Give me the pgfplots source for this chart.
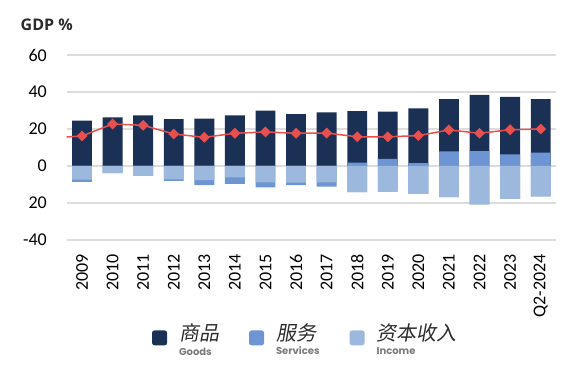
\documentclass[border=0pt]{standalone}
\usepackage{pgfplots}
\usepackage{pgfplotstable}
\pgfplotsset{compat=1.18}
\usepackage{fontspec}
\setmainfont{Carlito}
\newfontfamily\cjk{Noto Sans CJK SC}[FakeSlant=0.18]
\newfontfamily\engfont{Poppins}
\newfontfamily\titlefont{Open Sans}
\definecolor{navy}{HTML}{1A3055}
\definecolor{midblue}{HTML}{6D95D3}
\definecolor{lightblue}{HTML}{9DB8DD}
\definecolor{redline}{HTML}{E8504F}
\definecolor{gridgray}{HTML}{DDDDDD}
\definecolor{textdark}{HTML}{2B2B2B}
\definecolor{textgray}{HTML}{7A7A7A}

% postop = top of positive stack (goods + positive services)
% spos   = positive services
% negtot = bottom of negative stack (income + negative services)
% income = capital income (negative)
% share  = red line
\pgfplotstableread{
x  postop spos negtot income share
0  24.5   0    -8.6   -7.4   16.2
1  26.3   0    -3.8   -3.8   22.7
2  27.4   0    -5.4   -5.4   22.0
3  25.4   0    -8.1   -7.2   17.3
4  25.6   0    -10.3  -7.7   15.5
5  27.4   0    -9.7   -6.1   17.7
6  29.9   0    -11.5  -8.8   18.4
7  28.1   0    -10.4  -9.0   17.7
8  29.0   0    -11.2  -8.8   17.8
9  29.7   1.8  -14.1  -14.1  15.8
10 29.4   3.8  -13.9  -13.9  15.8
11 31.2   1.5  -15.1  -15.1  16.4
12 36.2   7.9  -16.8  -16.8  19.5
13 38.4   8.1  -20.7  -20.7  17.7
14 37.3   6.3  -17.8  -17.8  19.6
15 36.2   7.2  -16.4  -16.4  20.0
}\data

\newcommand{\legtext}[2]{\begin{tabular}[t]{@{}l@{}}{\cjk\fontsize{20bp}{22bp}\selectfont\color{textdark}#1}\\[3bp]{\engfont\bfseries\fontsize{10bp}{10bp}\selectfont\color{textgray}#2}\end{tabular}}

\begin{document}
\begin{tikzpicture}
\useasboundingbox (-66.7bp,-135bp) rectangle (517.3bp,240bp);
\begin{axis}[
  at={(0,0)}, anchor=south west,
  width=489.3bp, height=185bp, scale only axis,
  xmin=-0.5, xmax=15.5, ymin=-40, ymax=60,
  ytick={-40,-20,0,20,40,60},
  yticklabels={-40,20,0,20,40,60},
  xtick={0,...,15},
  xticklabels={2009,2010,2011,2012,2013,2014,2015,2016,2017,2018,2019,2020,2021,2022,2023,Q2-2024},
  ymajorgrids, grid style={gridgray, line width=1.2bp},
  axis line style={draw=none}, major tick length=0,
  tick label style={font=\fontsize{18bp}{20bp}\selectfont, text=black},
  yticklabel style={anchor=east, inner xsep=19.7bp},
  xticklabel style={rotate=90, anchor=east, inner xsep=14bp, inner ysep=0pt},
  ylabel={GDP \%},
  every axis y label/.style={at={(axis description cs:0,1)}, anchor=base, xshift=-20bp, yshift=24bp, font=\titlefont\bfseries\fontsize{16bp}{18bp}\selectfont, text=textdark},
  legend columns=3,
  legend cell align=left,
  legend style={at={(axis description cs:0.5,0)}, anchor=north, yshift=-79bp, xshift=-6bp, draw=none, fill=none,
    /tikz/every odd column/.append style={column sep=10bp},
    /tikz/every even column/.append style={column sep=28bp}},
  legend image code/.code={\fill[#1,draw=none,rounded corners=2.5bp] (0bp,-13bp) rectangle (15bp,2bp);},
]
\addplot[ybar, bar width=0.65, bar shift=0pt, fill=navy, draw=none] table[x=x,y=postop]{\data};
\addlegendentry{\legtext{商品}{Goods}}
\addplot[ybar, bar width=0.65, bar shift=0pt, fill=midblue, draw=none] table[x=x,y=spos]{\data};
\addlegendentry{\legtext{服务}{Services}}
\addplot[ybar, bar width=0.65, bar shift=0pt, fill=midblue, draw=none, forget plot] table[x=x,y=negtot]{\data};
\addplot[ybar, bar width=0.65, bar shift=0pt, fill=lightblue, draw=none] table[x=x,y=income]{\data};
\addlegendentry{\legtext{资本收入}{Income}}
\addplot[redline, line width=1.5bp, forget plot] coordinates {(-0.5,15.7) (0,16.2)};
\addplot[redline, line width=1.5bp, mark=square*, mark size=3.1bp, mark options={rotate=45, fill=redline, draw=none}, forget plot] table[x=x,y=share]{\data};
\end{axis}
\end{tikzpicture}
\end{document}
